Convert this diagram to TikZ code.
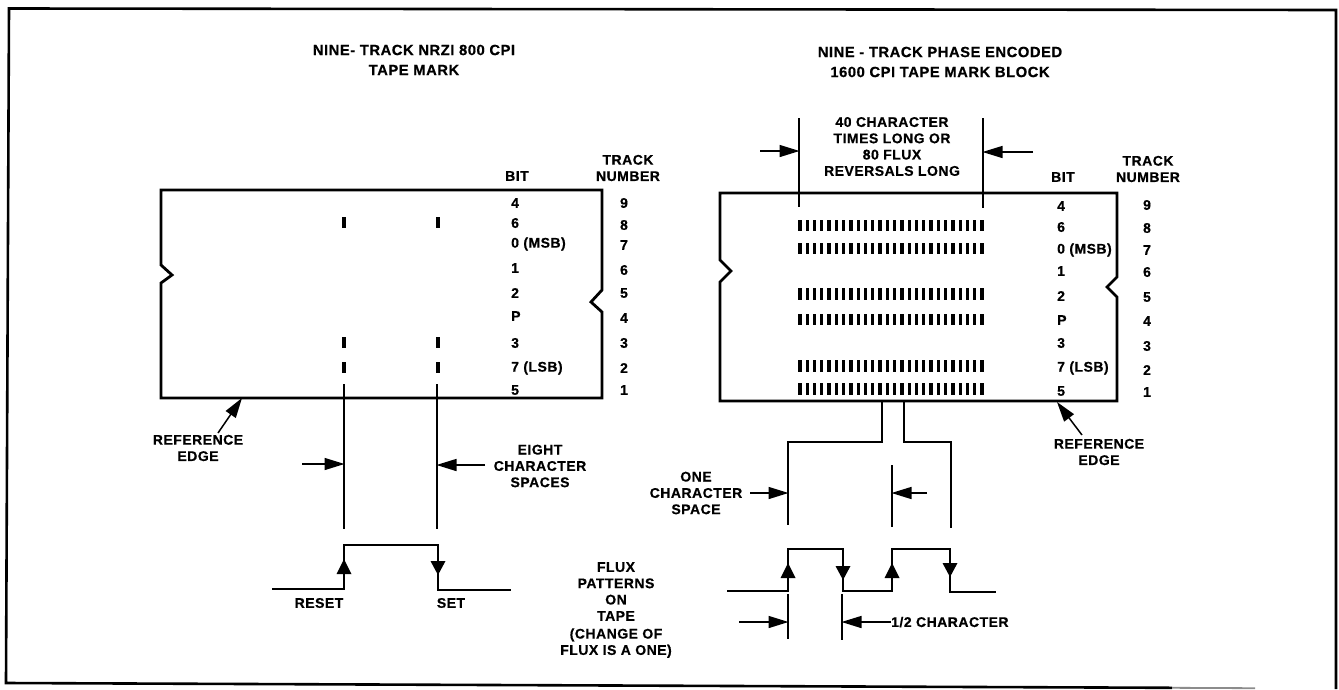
\documentclass[tikz,border=0pt]{standalone}
\usepackage{fontspec}
\setmainfont[LetterSpace=3.5,BoldFeatures={FakeBold=0.5}]{Liberation Sans}
\usetikzlibrary{arrows.meta}
\tikzset{
  x=1pt,y=-1pt,
  tape/.style={line width=2.8pt,line join=miter},
  lead/.style={line width=1.5pt},
  fluxline/.style={line width=1.7pt},
  bighead/.style={-{Triangle[length=20pt,width=12pt]}},
  dim/.style={lead,bighead,shorten >=-0.5pt},
  lab/.style={font=\bfseries\fontsize{14}{16.3}\selectfont,inner sep=0pt,align=center,text=black},
  ttl/.style={lab,font=\bfseries\fontsize{14.8}{17}\selectfont},
  lft/.style={lab,anchor=west},
  tick/.style={line width=3.8pt},
  bar/.style={line width=3.3pt},
}
\newcommand{\HeadUp}[2]{\fill (#1,#2) -- (#1-7.5,#2+15) -- (#1+7.5,#2+15) -- cycle;}
\newcommand{\HeadDown}[2]{\fill (#1,#2) -- (#1-7.5,#2-14) -- (#1+7.5,#2-14) -- cycle;}
\begin{document}
\begin{tikzpicture}
\useasboundingbox (0,0) rectangle (1339,689);
\fill[white] (0,0) rectangle (1339,689);
% outer frame
\draw[line width=2.6pt] (1172,687.8) -- (6,683) -- (9,8.5) -- (1336,10) -- (1336,689);
\draw[line width=1.8pt,black!45] (1172,687.8) -- (1255,688.2);
% titles
\node[ttl] (t1) at (414,50) {NINE- TRACK NRZI 800 CPI};
\node[ttl] (t1b) at (414,70) {TAPE MARK};
\node[ttl] (t2) at (940,52) {NINE - TRACK PHASE ENCODED};
\node[ttl] (t2b) at (940,72) {1600 CPI TAPE MARK BLOCK};
% left tape
\draw[tape] (161,190) -- (602,190) -- (602,290) -- (591,302) -- (602,312) -- (602,398) -- (161,398) -- (161,283) -- (172,275) -- (161,265) -- cycle;
\foreach \x in {344,438}{
  \foreach \a/\b in {217/228,337/348,362/373}{\draw[tick] (\x,\a) -- (\x,\b);}
}
\node[lab] (lbit) at (517,176) {BIT};
\node[lab] (ltrack) at (628,168) {TRACK\\NUMBER};
\foreach \n/\y/\t in {a/203/4,b/223/6,c/244/{0 (MSB)},d/268/1,e/293/2,f/316/P,g/343/3,h/368/{7 (LSB)},i/390/5}{
  \node[lft] (lb\n) at (511,\y) {\t};
}
\foreach \n/\y/\t in {a/203/9,b/225/8,c/245/7,d/270/6,e/293/5,f/318/4,g/343/3,h/368/2,i/390/1}{
  \node[lab] (ln\n) at (624,\y) {\t};
}
\coordinate (la1) at (344,384); \coordinate (la2) at (344,529);
\coordinate (lb1) at (437,384); \coordinate (lb2) at (437,529);
\draw[lead] (la1) -- (la2);
\draw[lead] (lb1) -- (lb2);
% left reference edge
\node[lab] (lref) at (198,448) {REFERENCE\\EDGE};
\coordinate (lreft) at (242,398);
\draw[lead,bighead] (218,433) -- (lreft);
% eight char
\coordinate (le1) at (302,464); \coordinate (le2) at (344,464);
\coordinate (le3) at (485,465); \coordinate (le4) at (437,465);
\draw[dim] (le1) -- (le2);
\draw[dim] (le3) -- (le4);
\node[lab] (eight) at (540,466) {EIGHT\\CHARACTER\\SPACES};
% left flux
\draw[fluxline] (272,589) -- (344,589) -- (344,545) -- (438,545) -- (438,590) -- (511,590);
\HeadUp{344}{559}
\HeadDown{438}{575}
\node[lab] (reset) at (319,603) {RESET};
\node[lab] (set) at (451,603) {SET};
% right tape
\draw[tape] (720,193) -- (1117,193) -- (1117,277) -- (1107,287) -- (1117,297) -- (1117,401) -- (720,401) -- (720,282) -- (731,271) -- (720,260) -- cycle;
\draw[lead] (799,118) -- (799,207);
\draw[lead] (983,118) -- (983,208);
\draw[dim] (760,151) -- (799,151);
\draw[dim] (1033,152) -- (983,152);
\node[lab] (forty) at (892,146.5) {40 CHARACTER\\TIMES LONG OR\\80 FLUX\\REVERSALS LONG};
\foreach \a/\b in {220/231,243/254,288/300,314/325,360/372,383/395}{
  \foreach \i in {0,...,25}{
    \draw[bar] ({800+\i*7.28},\a) -- ({800+\i*7.28},\b);
  }
}
\node[lab] (rbit) at (1063,177) {BIT};
\node[lab] (rtrack) at (1148,169) {TRACK\\NUMBER};
\foreach \n/\y/\t in {a/206/4,b/227/6,c/250/{0 (MSB)},d/271/1,e/296/2,f/320/P,g/343/3,h/368/{7 (LSB)},i/391/5}{
  \node[lft] (rb\n) at (1057,\y) {\t};
}
\foreach \n/\y/\t in {a/205/9,b/228/8,c/250/7,d/272/6,e/297/5,f/321/4,g/346/3,h/370/2,i/392/1}{
  \node[lab] (rn\n) at (1147,\y) {\t};
}
% right reference edge
\node[lab] (rref) at (1099,452) {REFERENCE\\EDGE};
\coordinate (rreft) at (1057,402);
\draw[lead,bighead] (1082,435) -- (rreft);
% right brackets
\draw[lead] (882,401) -- (882,442) -- (788,442) -- (788,525);
\draw[lead] (904,401) -- (904,442) -- (951,442) -- (951,528);
\draw[lead] (892,465) -- (892,527);
\draw[dim] (750,493) -- (788,493);
\draw[dim] (927,493) -- (892,493);
\node[lab] (onec) at (696,493) {ONE\\CHARACTER\\SPACE};
% right flux
\draw[fluxline] (727,591) -- (788,591) -- (788,549) -- (843,549) -- (843,591) -- (892,591) -- (892,549) -- (950,549) -- (950,592) -- (996,592);
\HeadUp{788}{563}
\HeadDown{843}{580}
\HeadUp{892}{563}
\HeadDown{950}{577}
\draw[lead] (788,594) -- (788,639);
\draw[lead] (842,594) -- (842,640);
\draw[dim] (739,622) -- (788,622);
\node[lab,anchor=west] (half) at (891,622) {1/2 CHARACTER};
\draw[dim] (half.west) -- (842,622);
\node[lab] (fluxp) at (616,610) {FLUX\\PATTERNS\\ON\\TAPE\\[1.5pt](CHANGE OF\\FLUX IS A ONE)};
\end{tikzpicture}
\end{document}
